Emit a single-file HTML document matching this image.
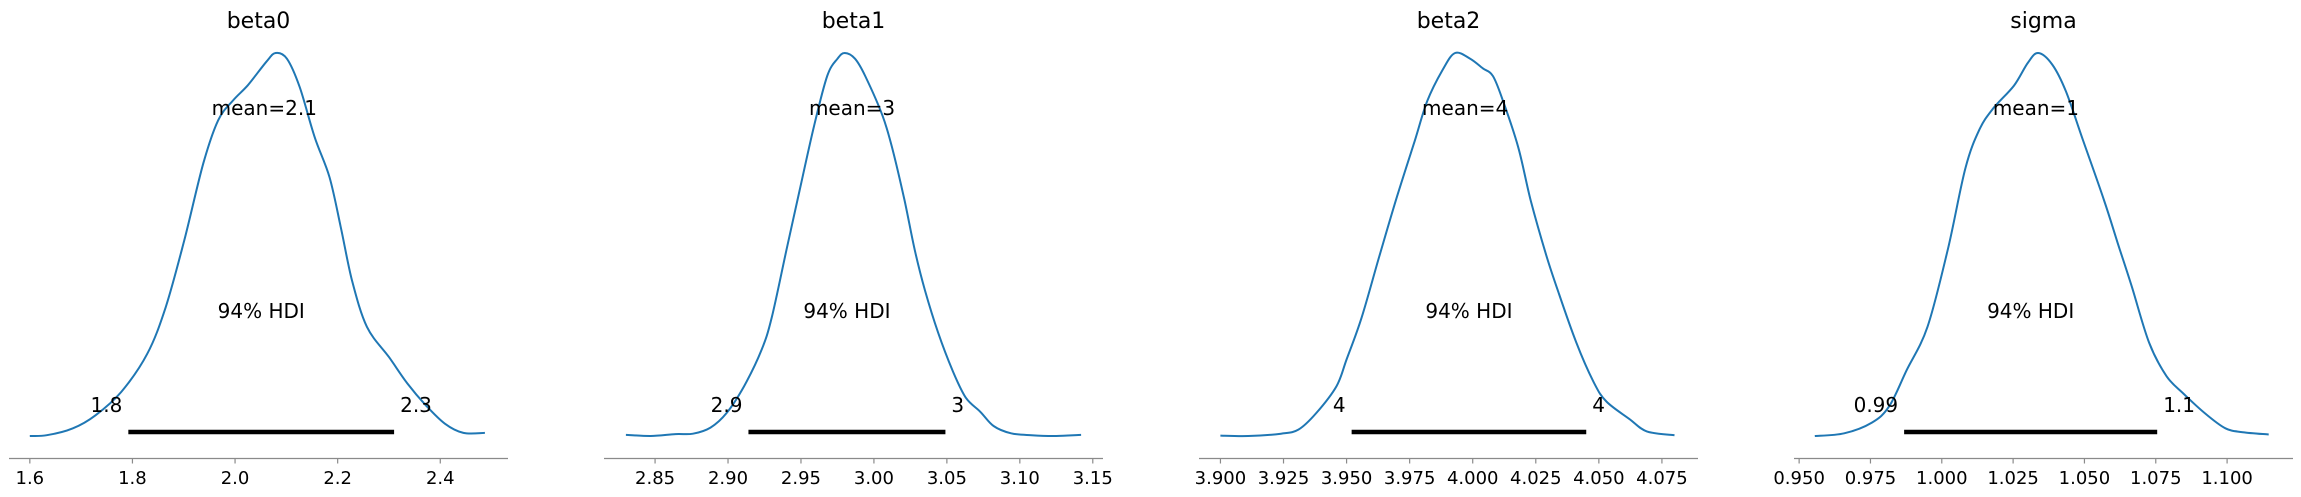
<!DOCTYPE html>
<html><head><meta charset="utf-8"><title>Posterior plot</title>
<style>
html,body{margin:0;padding:0;background:#fff;}
svg{display:block;font-family:"DejaVu Sans","Liberation Sans",sans-serif;}
</style></head>
<body>
<svg id="chart" width="2301" height="497" viewBox="0 0 2301 497" xmlns="http://www.w3.org/2000/svg"></svg>
<script>
// ---- data ----
const panelTitles = ["beta0", "beta1", "beta2", "sigma"];
const meanValues = [2.057, 2.985, 3.997, 1.033];
const meanLabels = ["mean=2.1", "mean=3", "mean=4", "mean=1"];
const hdiLow = [1.792, 2.914, 3.952, 0.9868];
const hdiHigh = [2.31, 3.049, 4.045, 1.0755];
const hdiLowLabels = ["1.8", "2.9", "4", "0.99"];
const hdiHighLabels = ["2.3", "3", "4", "1.1"];
const ticks0 = [1.6, 1.8, 2.0, 2.2, 2.4];
const tickLabels0 = ["1.6", "1.8", "2.0", "2.2", "2.4"];
const ticks1 = [2.85, 2.90, 2.95, 3.00, 3.05, 3.10, 3.15];
const tickLabels1 = ["2.85", "2.90", "2.95", "3.00", "3.05", "3.10", "3.15"];
const ticks2 = [3.900, 3.925, 3.950, 3.975, 4.000, 4.025, 4.050, 4.075];
const tickLabels2 = ["3.900", "3.925", "3.950", "3.975", "4.000", "4.025", "4.050", "4.075"];
const ticks3 = [0.950, 0.975, 1.000, 1.025, 1.050, 1.075, 1.100];
const tickLabels3 = ["0.950", "0.975", "1.000", "1.025", "1.050", "1.075", "1.100"];
const xlimLow = [1.5594, 2.815, 3.8915, 0.9482];
const xlimHigh = [2.532, 3.157, 4.0893, 1.1231];
const kdeX0 = [1.600,1.633,1.684,1.728,1.778,1.829,1.865,1.901,1.938,1.967,1.996,2.025,2.061,2.079,2.101,2.126,2.155,2.184,2.206,2.228,2.257,2.300,2.336,2.372,2.409,2.445,2.487];
const kdeY0 = [0,0.002,0.02,0.054,0.115,0.215,0.337,0.511,0.711,0.824,0.876,0.916,0.977,1.0,0.985,0.911,0.781,0.676,0.546,0.406,0.285,0.206,0.137,0.08,0.032,0.008,0.008];
const kdeX1 = [2.830,2.847,2.864,2.876,2.888,2.899,2.911,2.923,2.930,2.940,2.949,2.959,2.968,2.975,2.980,2.987,2.994,3.006,3.013,3.021,3.028,3.035,3.044,3.054,3.063,3.073,3.082,3.094,3.108,3.125,3.142];
const kdeY1 = [0.003,0,0.005,0.006,0.022,0.06,0.13,0.225,0.31,0.485,0.64,0.81,0.94,0.985,1.0,0.985,0.94,0.835,0.745,0.615,0.485,0.38,0.27,0.17,0.1,0.063,0.026,0.007,0.002,0,0.003];
const kdeX2 = [3.900,3.911,3.924,3.931,3.938,3.946,3.950,3.956,3.963,3.970,3.977,3.982,3.988,3.993,3.999,4.004,4.008,4.012,4.018,4.023,4.029,4.034,4.041,4.048,4.053,4.062,4.069,4.080];
const kdeY2 = [0.001,0,0.006,0.017,0.06,0.13,0.2,0.31,0.47,0.625,0.77,0.875,0.955,1.0,0.985,0.96,0.94,0.875,0.755,0.615,0.475,0.375,0.245,0.14,0.09,0.045,0.012,0.002];
const kdeX3 = [0.9555,0.9658,0.9755,0.9816,0.9877,0.995,1.0022,1.0083,1.0132,1.018,1.0253,1.0302,1.0338,1.0387,1.0435,1.0496,1.0569,1.0617,1.0666,1.0727,1.0788,1.0848,1.0921,1.0994,1.1055,1.1146];
const kdeY3 = [0,0.007,0.035,0.078,0.172,0.285,0.49,0.7,0.8,0.855,0.915,0.975,1.0,0.97,0.9,0.77,0.615,0.503,0.39,0.243,0.156,0.11,0.06,0.02,0.01,0.004];

const tickSets = [ticks0, ticks1, ticks2, ticks3];
const tickLabelSets = [tickLabels0, tickLabels1, tickLabels2, tickLabels3];
const kdeXs = [kdeX0, kdeX1, kdeX2, kdeX3];
const kdeYs = [kdeY0, kdeY1, kdeY2, kdeY3];

// ---- layout ----
const NS = "http://www.w3.org/2000/svg";
const svg = document.getElementById("chart");
const panelLeft = [9, 604, 1199, 1794];
const panelWidth = 499;
const axisY = 458.5;
const baseY = 436;
const peakY = 53;

function mk(tag, attrs, parent, text) {
  const el = document.createElementNS(NS, tag);
  for (const k in attrs) el.setAttribute(k, attrs[k]);
  if (text !== undefined) el.textContent = text;
  parent.appendChild(el);
  return el;
}

function smoothPath(pts) {
  let d = "M" + pts[0][0].toFixed(1) + "," + pts[0][1].toFixed(1);
  for (let i = 0; i < pts.length - 1; i++) {
    const p0 = pts[Math.max(0, i - 1)], p1 = pts[i], p2 = pts[i + 1], p3 = pts[Math.min(pts.length - 1, i + 2)];
    const c1x = p1[0] + (p2[0] - p0[0]) / 6, c1y = p1[1] + (p2[1] - p0[1]) / 6;
    const c2x = p2[0] - (p3[0] - p1[0]) / 6, c2y = p2[1] - (p3[1] - p1[1]) / 6;
    d += " C" + c1x.toFixed(1) + "," + c1y.toFixed(1) + " " + c2x.toFixed(1) + "," + c2y.toFixed(1) + " " + p2[0].toFixed(1) + "," + p2[1].toFixed(1);
  }
  return d;
}

for (let p = 0; p < 4; p++) {
  const x = v => panelLeft[p] + (v - xlimLow[p]) / (xlimHigh[p] - xlimLow[p]) * panelWidth;
  const y = d => baseY - d * (baseY - peakY);
  const g = mk("g", {}, svg);
  
  

  const title = mk("text", {x: panelLeft[p] + panelWidth / 2, y: 28, "text-anchor": "middle", "font-size": 22, fill: "#000"}, g, panelTitles[p]);
  
  

  const axis = mk("line", {x1: panelLeft[p], x2: panelLeft[p] + panelWidth, y1: axisY, y2: axisY, stroke: "#8a8a8a", "stroke-width": 1.3}, g);
  
  

  const ts = tickSets[p], tl = tickLabelSets[p];
  for (let i = 0; i < ts.length; i++) {
    const tx = x(ts[i]);
    const tk = mk("line", {x1: tx, x2: tx, y1: axisY, y2: axisY + 5, stroke: "#8a8a8a", "stroke-width": 1.2}, g);
    
    
    const lb = mk("text", {x: tx, y: 484, "text-anchor": "middle", "font-size": 18, fill: "#000"}, g, tl[i]);
    
    
  }

  const xs = kdeXs[p], ys = kdeYs[p];
  const pts = xs.map((v, i) => [x(v), y(ys[i])]);
  const curve = mk("path", {d: smoothPath(pts), fill: "none", stroke: "#1f77b4", "stroke-width": 2, "stroke-linejoin": "round"}, g);
  
  

  const bar = mk("line", {x1: x(hdiLow[p]), x2: x(hdiHigh[p]), y1: 432, y2: 432, stroke: "#000", "stroke-width": 4.5}, g);
  
  

  const ll = mk("text", {x: x(hdiLow[p]) - 6, y: 412, "text-anchor": "end", "font-size": 20, fill: "#000"}, g, hdiLowLabels[p]);
  
  
  const hl = mk("text", {x: x(hdiHigh[p]) + 6, y: 412, "text-anchor": "start", "font-size": 20, fill: "#000"}, g, hdiHighLabels[p]);
  
  

  const hdiTxt = mk("text", {x: x((hdiLow[p] + hdiHigh[p]) / 2), y: 318, "text-anchor": "middle", "font-size": 20, fill: "#000"}, g, "94% HDI");
  
  

  const mt = mk("text", {x: x(meanValues[p]), y: 115, "text-anchor": "middle", "font-size": 20, fill: "#000"}, g, meanLabels[p]);
  
  
}
</script>
</body></html>
